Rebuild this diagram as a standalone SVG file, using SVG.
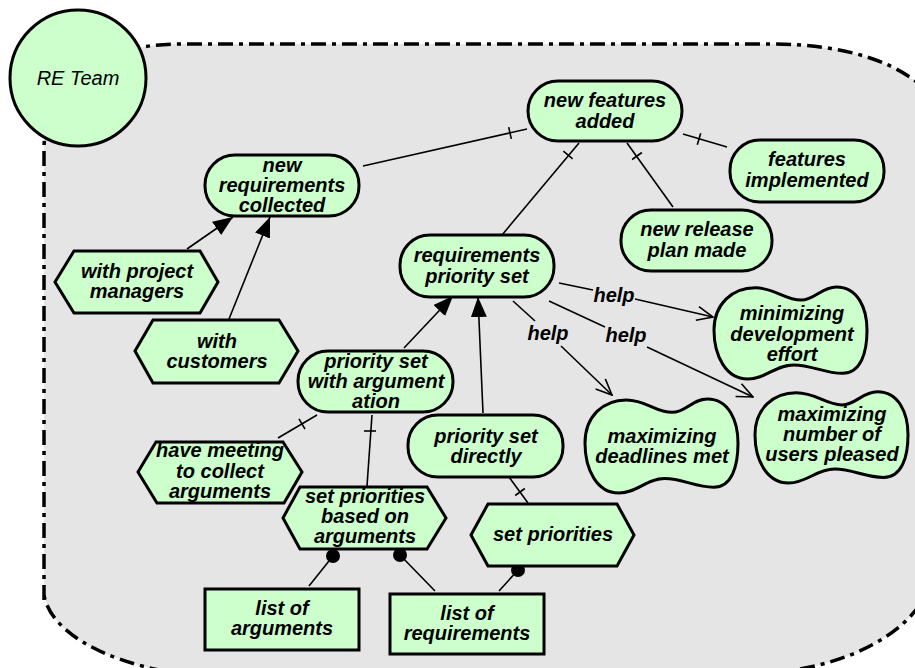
<svg xmlns="http://www.w3.org/2000/svg" xmlns:xlink="http://www.w3.org/1999/xlink" width="915" height="668" viewBox="0 0 915 668">
<style>
.n{fill:#ccffcc;stroke:#000;stroke-width:3}
.t{font-family:"Liberation Sans",Arial,sans-serif;font-size:20px;font-weight:bold;font-style:italic;text-anchor:middle;fill:#000}
.r{font-weight:normal}
.c{stroke:#000;stroke-width:1.6;fill:none}
.k{stroke:#000;stroke-width:1.6}
.b{fill:#e5e5e5;stroke:#000;stroke-width:3.5;stroke-dasharray:15 6 4 6}
</style>
<defs>
<path id="cloud" vector-effect="non-scaling-stroke" d="M0,48 C0,20 12,3 27,3 C40,3 46,16 57,16 C66,16 70,2 80,2 C94,2 100,25 100,48 C100,72 96,94 84,94 C72,94 64,85 52,85 C40,85 34,100 22,100 C8,100 0,76 0,48 Z"/>
<marker id="fa" viewBox="0 0 20 16" refX="20" refY="8" markerWidth="20" markerHeight="16" markerUnits="userSpaceOnUse" orient="auto"><path d="M0,0 L20,8 L0,16 Z" fill="#000"/></marker>
<marker id="oa" viewBox="0 0 18 16" refX="17" refY="8" markerWidth="18" markerHeight="16" markerUnits="userSpaceOnUse" orient="auto"><path d="M1,1 L17,8 L1,15" fill="none" stroke="#000" stroke-width="1.6"/></marker>
</defs>
<g id="boundary">
<path class="b" d="M44,600 L44,150 C44,90 90,44 180,44 L770,44 C845,44 905,62 935,100 L935,560 C935,610 880,660 780,672 L170,672 C100,660 50,630 44,595 Z"/>
</g>
<g id="connectors">
<line class="c" x1="363" y1="166" x2="527" y2="129"/>
<line class="k" x1="508.7" y1="127.2" x2="511.3" y2="138.9"/>
<line class="c" x1="579" y1="143" x2="502" y2="235"/>
<line class="k" x1="563.4" y1="151.1" x2="572.6" y2="158.9"/>
<line class="c" x1="627" y1="143" x2="673" y2="207"/>
<line class="k" x1="632.1" y1="159.5" x2="641.9" y2="152.5"/>
<line class="c" x1="683" y1="134" x2="727" y2="147"/>
<line class="k" x1="700.7" y1="133.2" x2="697.3" y2="144.8"/>
<line class="c" x1="187" y1="249" x2="233" y2="217" marker-end="url(#fa)"/>
<line class="c" x1="229" y1="319" x2="270" y2="217" marker-end="url(#fa)"/>
<line class="c" x1="404" y1="348" x2="453" y2="296" marker-end="url(#fa)"/>
<line class="c" x1="483" y1="413" x2="478" y2="297" marker-end="url(#fa)"/>
<line class="c" x1="559" y1="283" x2="593" y2="290"/>
<line class="c" x1="635" y1="299" x2="713" y2="317" marker-end="url(#oa)"/>
<text class="t" x="614" y="302">help</text>
<line class="c" x1="513" y1="301" x2="535" y2="321"/>
<line class="c" x1="561" y1="346" x2="612" y2="395" marker-end="url(#oa)"/>
<text class="t" x="548" y="340">help</text>
<line class="c" x1="549" y1="301" x2="605" y2="327"/>
<line class="c" x1="647" y1="347" x2="753" y2="397" marker-end="url(#oa)"/>
<text class="t" x="626" y="342">help</text>
<line class="c" x1="278" y1="438" x2="317" y2="415"/>
<line class="k" x1="299" y1="418.8" x2="305" y2="429.2"/>
<line class="c" x1="367" y1="486" x2="372" y2="415"/>
<line class="k" x1="364" y1="431" x2="376" y2="431"/>
<line class="c" x1="528" y1="503" x2="509" y2="477"/>
<line class="k" x1="515.2" y1="495.5" x2="524.8" y2="488.5"/>
<line class="c" x1="333" y1="556" x2="309" y2="586"/>
<circle cx="333" cy="556" r="7" fill="#000"/>
<line class="c" x1="400" y1="555" x2="435" y2="591"/>
<circle cx="400" cy="555" r="7" fill="#000"/>
<line class="c" x1="518" y1="570" x2="499" y2="591"/>
<circle cx="518" cy="570" r="7" fill="#000"/>
</g>
<g id="re-team">
<circle class="n" cx="78" cy="78" r="68"/>
<text class="t r" x="78" y="85">RE Team</text>
</g>
<g id="new-features-added">
<rect class="n" x="528" y="81" width="154" height="60" rx="30"/>
<text class="t" x="605" y="107">new features</text>
<text class="t" x="605" y="128">added</text>
</g>
<g id="new-requirements-collected">
<rect class="n" x="205" y="155" width="154" height="61" rx="30"/>
<text class="t" x="282" y="172">new</text>
<text class="t" x="282" y="192">requirements</text>
<text class="t" x="282" y="212">collected</text>
</g>
<g id="features-implemented">
<rect class="n" x="730" y="140" width="154" height="62" rx="30"/>
<text class="t" x="807" y="166">features</text>
<text class="t" x="807" y="187">implemented</text>
</g>
<g id="new-release-plan-made">
<rect class="n" x="621" y="210" width="151" height="61" rx="30"/>
<text class="t" x="697" y="236">new release</text>
<text class="t" x="697" y="257">plan made</text>
</g>
<g id="requirements-priority-set">
<rect class="n" x="400" y="235" width="154" height="62" rx="30"/>
<text class="t" x="477" y="262">requirements</text>
<text class="t" x="477" y="283">priority set</text>
</g>
<g id="with-project-managers">
<polygon class="n" points="55,282 74,251 200,251 218,282 200,313 74,313"/>
<text class="t" x="137" y="278">with project</text>
<text class="t" x="137" y="298">managers</text>
</g>
<g id="with-customers">
<polygon class="n" points="135,351 153,320 279,320 298,351 279,383 153,383"/>
<text class="t" x="217" y="348">with</text>
<text class="t" x="217" y="368">customers</text>
</g>
<g id="priority-set-with-argumentation">
<rect class="n" x="298" y="351" width="155" height="61" rx="30"/>
<text class="t" x="376" y="368">priority set</text>
<text class="t" x="376" y="388">with argument</text>
<text class="t" x="376" y="408">ation</text>
</g>
<g id="priority-set-directly">
<rect class="n" x="408" y="415" width="155" height="62" rx="30"/>
<text class="t" x="486" y="443">priority set</text>
<text class="t" x="486" y="463">directly</text>
</g>
<g id="have-meeting">
<polygon class="n" points="138,472 156,442 283,442 302,472 284,503 157,503"/>
<text class="t" x="220" y="457">have meeting</text>
<text class="t" x="220" y="478">to collect</text>
<text class="t" x="220" y="498">arguments</text>
</g>
<g id="set-priorities-based-on-arguments">
<polygon class="n" points="283,518 300,487 427,487 446,518 427,549 300,549"/>
<text class="t" x="365" y="503">set priorities</text>
<text class="t" x="365" y="523">based on</text>
<text class="t" x="365" y="543">arguments</text>
</g>
<g id="set-priorities">
<polygon class="n" points="471,535 488,504 617,504 634,535 617,566 488,566"/>
<text class="t" x="553" y="541">set priorities</text>
</g>
<g id="list-of-arguments">
<rect class="n" x="205" y="589" width="154" height="61"/>
<text class="t" x="282" y="615">list of</text>
<text class="t" x="282" y="635">arguments</text>
</g>
<g id="list-of-requirements">
<rect class="n" x="390" y="594" width="154" height="60"/>
<text class="t" x="467" y="620">list of</text>
<text class="t" x="467" y="640">requirements</text>
</g>
<g id="minimizing-development-effort">
<use xlink:href="#cloud" class="n" transform="translate(714,285) scale(1.53,0.94)"/>
<text class="t" x="792" y="320">minimizing</text>
<text class="t" x="792" y="341">development</text>
<text class="t" x="792" y="361">effort</text>
</g>
<g id="maximizing-deadlines-met">
<use xlink:href="#cloud" class="n" transform="translate(585,397) scale(1.53,0.96)"/>
<text class="t" x="662" y="443">maximizing</text>
<text class="t" x="662" y="463">deadlines met</text>
</g>
<g id="maximizing-number-of-users-pleased">
<use xlink:href="#cloud" class="n" transform="translate(755,390) scale(1.53,0.93)"/>
<text class="t" x="832" y="421">maximizing</text>
<text class="t" x="832" y="441">number of</text>
<text class="t" x="832" y="461">users pleased</text>
</g>
</svg>
